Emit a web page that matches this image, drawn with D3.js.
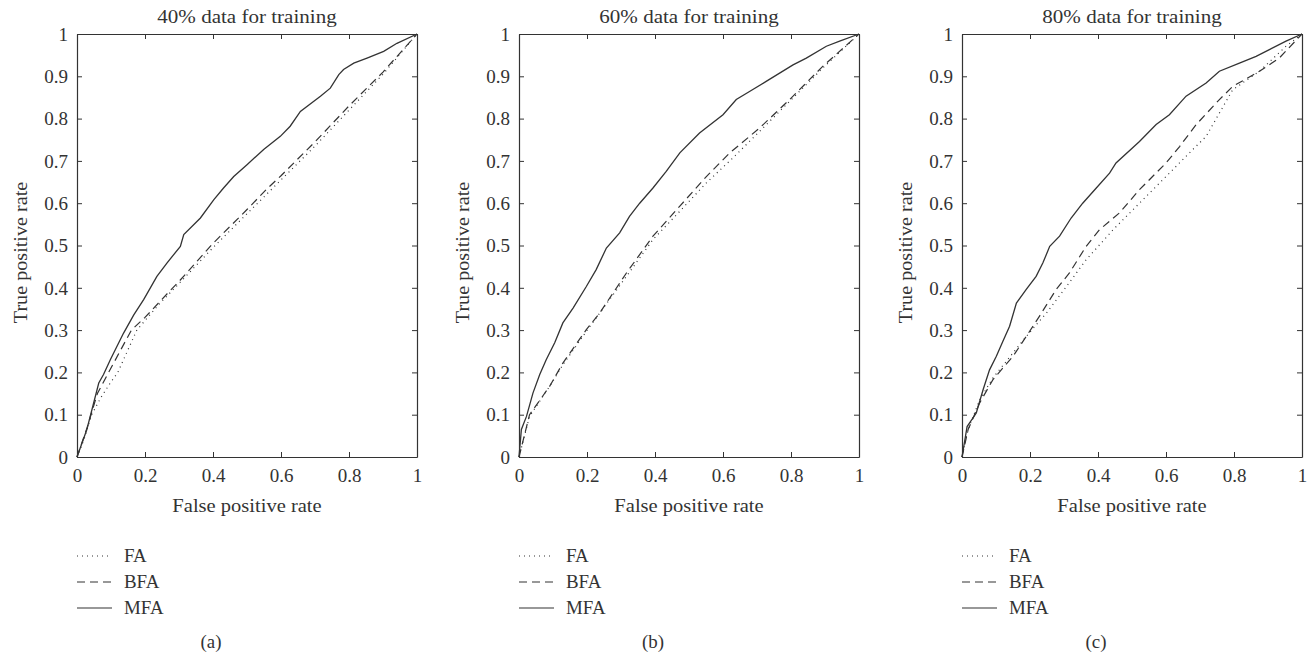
<!DOCTYPE html>
<html>
<head>
<meta charset="utf-8">
<script src="https://cdn.jsdelivr.net/npm/d3@7"></script>
<style>
  body { margin: 0; background: #fff; }
  text { font-family: "Liberation Serif", "DejaVu Serif", serif; fill: #333; }
</style>
</head>
<body>
<div id="chart"></div>
<script>
// tick labels
var ticksX = [0, 0.2, 0.4, 0.6, 0.8, 1];
var ticksY = [0, 0.1, 0.2, 0.3, 0.4, 0.5, 0.6, 0.7, 0.8, 0.9, 1];

var titles = ["40% data for training", "60% data for training", "80% data for training"];
var panelLabels = ["(a)", "(b)", "(c)"];
var seriesNames = ["FA", "BFA", "MFA"];

// ROC points [fpr, tpr]
var faA = [[0,0],[0.02,0.04],[0.043,0.1],[0.07,0.14],[0.097,0.174],[0.12,0.2],[0.176,0.3],[0.24,0.36],
  [0.3,0.41],[0.4,0.495],[0.5,0.575],[0.55,0.615],[0.6,0.655],[0.7,0.735],[0.8,0.82],[0.9,0.905],[1,1]];
var bfaA = [[0,0],[0.03,0.07],[0.06,0.15],[0.093,0.2],[0.16,0.3],[0.2,0.33],[0.27,0.39],[0.3,0.415],
  [0.4,0.505],[0.5,0.585],[0.56,0.635],[0.6,0.665],[0.7,0.745],[0.8,0.83],[0.9,0.91],[1,1]];
var mfaA = [[0,0],[0.029,0.065],[0.064,0.175],[0.078,0.195],[0.098,0.23],[0.137,0.293],[0.167,0.336],
  [0.196,0.372],[0.235,0.427],[0.265,0.459],[0.304,0.498],[0.314,0.526],[0.363,0.565],[0.402,0.608],
  [0.431,0.636],[0.461,0.663],[0.5,0.691],[0.549,0.727],[0.598,0.758],[0.627,0.782],[0.657,0.817],
  [0.716,0.853],[0.745,0.872],[0.77,0.904],[0.784,0.916],[0.814,0.931],[0.853,0.943],[0.902,0.959],
  [0.941,0.978],[1,1]];

var faB = [[0,0],[0.031,0.096],[0.09,0.167],[0.129,0.218],[0.198,0.297],[0.316,0.427],[0.394,0.514],
  [0.473,0.581],[0.551,0.648],[0.629,0.707],[0.708,0.77],[0.796,0.841],[0.894,0.92],[1,1]];
var bfaB = [[0,0],[0.031,0.1],[0.09,0.167],[0.129,0.222],[0.198,0.301],[0.237,0.34],[0.316,0.435],
  [0.394,0.522],[0.473,0.593],[0.551,0.663],[0.62,0.719],[0.708,0.778],[0.796,0.845],[0.894,0.924],[1,1]];
var mfaB = [[0,0],[0.007,0.065],[0.022,0.096],[0.041,0.151],[0.061,0.195],[0.08,0.23],[0.105,0.27],
  [0.129,0.317],[0.159,0.352],[0.198,0.403],[0.227,0.443],[0.257,0.494],[0.296,0.53],[0.325,0.569],
  [0.355,0.6],[0.394,0.636],[0.433,0.675],[0.473,0.719],[0.531,0.766],[0.6,0.809],[0.639,0.845],
  [0.678,0.864],[0.727,0.888],[0.806,0.927],[0.845,0.943],[0.904,0.971],[0.943,0.983],[1,1]];

var faC = [[0,0],[0.018,0.065],[0.052,0.135],[0.091,0.187],[0.15,0.246],[0.189,0.285],[0.248,0.34],
  [0.307,0.403],[0.365,0.466],[0.444,0.537],[0.522,0.6],[0.6,0.663],[0.679,0.727],[0.718,0.758],
  [0.796,0.868],[0.875,0.912],[0.953,0.971],[1,1]];
var bfaC = [[0,0],[0.018,0.065],[0.052,0.128],[0.091,0.183],[0.15,0.238],[0.189,0.285],[0.228,0.333],
  [0.277,0.396],[0.316,0.435],[0.365,0.498],[0.404,0.537],[0.463,0.577],[0.522,0.632],[0.6,0.695],
  [0.64,0.734],[0.689,0.786],[0.757,0.845],[0.796,0.876],[0.875,0.912],[0.933,0.943],[1,1]];
var mfaC = [[0,0],[0.015,0.072],[0.042,0.104],[0.062,0.159],[0.081,0.206],[0.101,0.238],[0.12,0.273],
  [0.14,0.309],[0.16,0.364],[0.189,0.396],[0.218,0.427],[0.238,0.459],[0.258,0.498],[0.287,0.522],
  [0.321,0.565],[0.355,0.6],[0.395,0.636],[0.434,0.671],[0.453,0.695],[0.522,0.746],[0.571,0.786],
  [0.61,0.809],[0.659,0.853],[0.718,0.884],[0.757,0.912],[0.816,0.931],[0.865,0.947],[0.904,0.963],
  [0.953,0.983],[1,1]];

var panelData = [[faA, bfaA, mfaA], [faB, bfaB, mfaB], [faC, bfaC, mfaC]];

// layout
var W = 1316, H = 657;
var lefts = [77, 519, 962];
var plotTop = 34, plotW = 340, plotH = 423;
var ink = "#333";
var dashes = ["1,4", "8,5", null];

var svg = d3.select("#chart").append("svg")
    .attr("width", W)
    .attr("height", H);

var x = d3.scaleLinear().domain([0, 1]).range([0, plotW]);
var y = d3.scaleLinear().domain([0, 1]).range([plotH, 0]);

var line = d3.line()
    .x(function(d) { return x(d[0]); })
    .y(function(d) { return y(d[1]); });

// the original face is wider than Liberation Serif, so stretch a little
function label(g, str, tx, ty, size, sx, rot) {
    return g.append("text")
        .attr("transform", "translate(" + tx + "," + ty + ")" + (rot ? " rotate(" + rot + ")" : "") +
            " scale(" + sx + ",1)")
        .attr("text-anchor", "middle")
        .style("font-size", size + "px")
        .text(str);
}

panelData.forEach(function(series, i) {
    var g = svg.append("g")
        .attr("transform", "translate(" + lefts[i] + "," + plotTop + ")");

    // curves
    series.forEach(function(pts, k) {
        g.append("path")
            .datum(pts)
            .attr("fill", "none")
            .attr("stroke", ink)
            .attr("stroke-width", k == 2 ? 1.3 : 1.2)
            .attr("stroke-dasharray", dashes[k])
            .attr("d", line);
    });

    // axes, ticks pointing inward on all sides
    var bottom = g.append("g")
        .attr("transform", "translate(0," + plotH + ")")
        .call(d3.axisBottom(x).tickValues(ticksX).tickSizeInner(-5).tickSizeOuter(0)
            .tickFormat(d3.format("")));
    var left = g.append("g")
        .call(d3.axisLeft(y).tickValues(ticksY).tickSizeInner(-5).tickSizeOuter(0).tickPadding(9)
            .tickFormat(d3.format("")));
    g.append("g")
        .call(d3.axisTop(x).tickValues(ticksX).tickSizeInner(-5).tickSizeOuter(0).tickFormat(""));
    g.append("g")
        .attr("transform", "translate(" + plotW + ",0)")
        .call(d3.axisRight(y).tickValues(ticksY).tickSizeInner(-5).tickSizeOuter(0).tickFormat(""));

    g.selectAll(".domain").attr("stroke", ink).attr("stroke-width", 1.2);
    g.selectAll(".tick line").attr("stroke", ink);
    g.selectAll(".tick text")
        .style("font-family", "Liberation Serif")
        .style("font-size", "19px")
        .attr("fill", ink);
    bottom.selectAll(".tick text").attr("y", 25).attr("dy", null);
    left.selectAll(".tick text").attr("dy", "0.33em");

    // title and axis labels
    label(g, titles[i], plotW / 2, -11, 18, 1.17);
    label(g, "False positive rate", plotW / 2, 478, 18, 1.14);
    label(g, "True positive rate", -50, plotH / 2 + 7, 18, 1.12, -90);

    // legend
    var leg = g.append("g").attr("transform", "translate(0,522)");
    seriesNames.forEach(function(name, k) {
        var row = leg.append("g").attr("transform", "translate(0," + (k * 26) + ")");
        row.append("line")
            .attr("x1", 0).attr("x2", 35)
            .attr("stroke", ink)
            .attr("stroke-width", 1.2)
            .attr("stroke-dasharray", dashes[k]);
        row.append("text")
            .attr("transform", "translate(47,0) scale(1.05,1)")
            .attr("dy", "0.35em")
            .style("font-size", "18px")
            .text(name);
    });

    label(g, panelLabels[i], plotW / 2 - 36, 614, 18, 1.05);
});
</script>
</body>
</html>
